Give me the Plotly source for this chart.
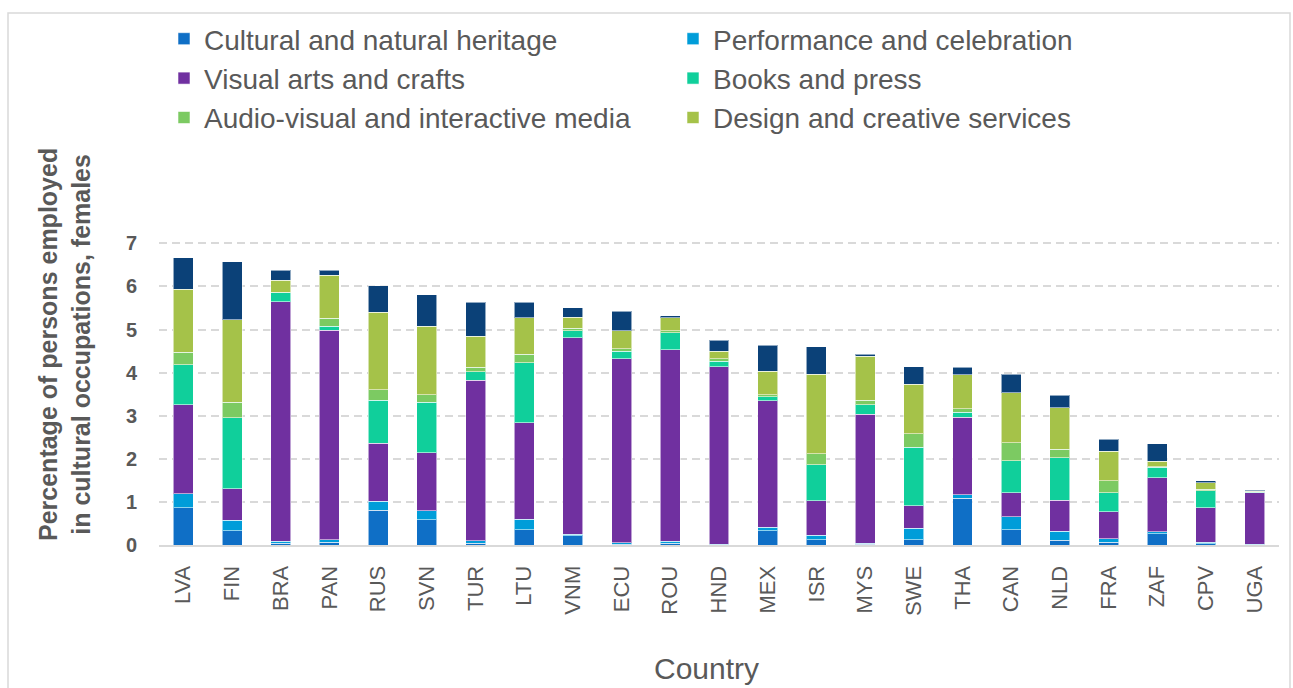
import plotly.graph_objects as go

countries = ["LVA", "FIN", "BRA", "PAN", "RUS", "SVN", "TUR", "LTU", "VNM", "ECU", "ROU", "HND",
             "MEX", "ISR", "MYS", "SWE", "THA", "CAN", "NLD", "FRA", "ZAF", "CPV", "UGA"]

heritage    = [0.87, 0.33, 0.04, 0.06, 0.81, 0.59, 0.04, 0.35, 0.22, 0.02, 0.04, 0.00,
               0.33, 0.12, 0.02, 0.12, 1.09, 0.35, 0.11, 0.06, 0.26, 0.03, 0.00]
performance = [0.32, 0.24, 0.05, 0.06, 0.21, 0.20, 0.06, 0.25, 0.03, 0.03, 0.05, 0.02,
               0.08, 0.11, 0.02, 0.27, 0.08, 0.30, 0.21, 0.09, 0.05, 0.03, 0.02]
visual_arts = [2.07, 0.74, 5.55, 4.86, 1.34, 1.35, 3.72, 2.24, 4.56, 4.27, 4.44, 4.12,
               2.94, 0.80, 2.99, 0.52, 1.79, 0.56, 0.72, 0.62, 1.25, 0.80, 1.19]
books_press = [0.92, 1.64, 0.21, 0.10, 1.00, 1.17, 0.20, 1.39, 0.16, 0.17, 0.40, 0.12,
               0.09, 0.83, 0.23, 1.36, 0.12, 0.74, 0.98, 0.44, 0.24, 0.40, 0.01]
audiovisual = [0.29, 0.36, 0.02, 0.18, 0.24, 0.18, 0.11, 0.20, 0.06, 0.06, 0.04, 0.06,
               0.05, 0.26, 0.10, 0.31, 0.08, 0.42, 0.20, 0.28, 0.02, 0.03, 0.01]
design      = [1.46, 1.92, 0.27, 1.00, 1.80, 1.58, 0.71, 0.84, 0.25, 0.42, 0.30, 0.18,
               0.54, 1.84, 1.02, 1.15, 0.79, 1.16, 0.97, 0.69, 0.12, 0.16, 0.02]
other       = [0.73, 1.34, 0.23, 0.11, 0.62, 0.74, 0.79, 0.36, 0.22, 0.45, 0.05, 0.25,
               0.60, 0.64, 0.05, 0.41, 0.18, 0.43, 0.28, 0.27, 0.41, 0.04, 0.02]

series_names = ["Cultural and natural heritage", "Performance and celebration",
                "Visual arts and crafts", "Books and press",
                "Audio-visual and interactive media", "Design and creative services", "Other"]
series_values = [heritage, performance, visual_arts, books_press, audiovisual, design, other]
series_colors = ["#0F6FC6", "#009DD9", "#7030A0", "#10CF9B", "#7CCA62", "#A5C249", "#0B4178"]
y_ticks = [0, 1, 2, 3, 4, 5, 6, 7]

fig = go.Figure()
for name, vals, col in zip(series_names, series_values, series_colors):
    fig.add_trace(go.Bar(
        x=countries, y=vals, name=name,
        marker=dict(color=col, line=dict(color="rgba(255,255,255,0.55)", width=1)),
        showlegend=(name != "Other"),
    ))

W, H = 1293, 688
L, R, T, B = 159, 14, 239, 143
pw, ph = W - L - R, H - T - B

def px_x(p):
    return (p - L) / pw

def px_y(p):
    return (H - B - p) / ph

fig.update_layout(
    width=W, height=H,
    barmode="stack", bargap=0.59,
    plot_bgcolor="white", paper_bgcolor="white",
    margin=dict(l=L, r=R, t=T, b=B, autoexpand=False),
    font=dict(family="Liberation Sans, Arial, sans-serif", color="#595959"),
    legend=dict(
        orientation="h", x=px_x(164), y=px_y(14), xanchor="left", yanchor="top",
        entrywidth=464, entrywidthmode="pixels", itemwidth=30,
        font=dict(size=28, color="#595959"), traceorder="normal",
        bgcolor="rgba(0,0,0,0)",
    ),
    xaxis=dict(
        tickangle=-90, tickfont=dict(size=22, color="#595959"),
        showgrid=False, showline=True, linecolor="#D9D9D9", linewidth=2,
        ticks="", ticklabelstandoff=10,
    ),
    yaxis=dict(
        range=[0, 7.1], tickvals=y_ticks,
        tickfont=dict(size=20, color="#595959", weight="bold"),
        showgrid=True, gridcolor="#D9D9D9", gridwidth=2, griddash="8px,5px",
        zeroline=False, showline=False, ticks="", ticklabelstandoff=21,
    ),
    shapes=[dict(type="rect", xref="paper", yref="paper",
                 x0=px_x(8), x1=px_x(1290), y0=px_y(700), y1=px_y(13),
                 line=dict(color="#D9D9D9", width=1.5), fillcolor="rgba(0,0,0,0)", layer="below")],
    annotations=[
        dict(text="<b>Percentage of persons employed<br>in cultural occupations, females</b>",
             xref="paper", yref="paper", x=px_x(64), y=px_y(345), xanchor="center", yanchor="middle",
             textangle=-90, showarrow=False, font=dict(size=25, color="#595959")),
        dict(text="Country", xref="paper", yref="paper", x=px_x(706), y=px_y(668),
             xanchor="center", yanchor="middle", showarrow=False,
             font=dict(size=30, color="#595959")),
    ],
)

fig.write_html("out.html", config={"displayModeBar": False},
               post_script="document.body.style.margin='0';document.body.style.overflow='hidden';")
